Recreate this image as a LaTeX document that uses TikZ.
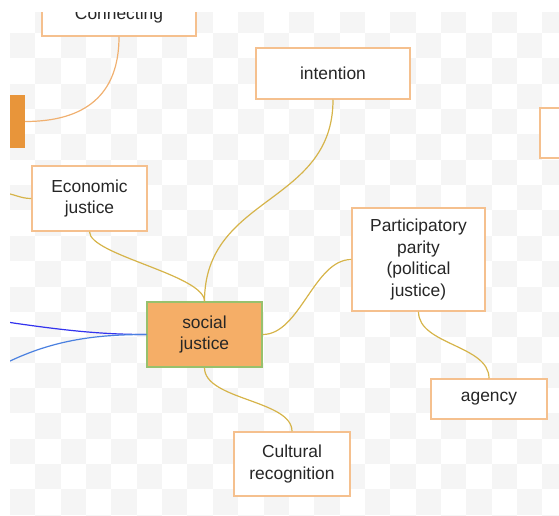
\documentclass[tikz,border=0pt]{standalone}
\usepackage{fontspec}
\setmainfont{Liberation Sans}
\usepackage{tikz}
\definecolor{cellgray}{HTML}{F5F5F5}
\definecolor{boxline}{HTML}{F5C08E}
\definecolor{rootfill}{HTML}{F5AE67}
\definecolor{rootline}{HTML}{97C16D}
\definecolor{barfill}{HTML}{E8953A}
\definecolor{goldlink}{HTML}{D6B44A}
\definecolor{orangelink}{HTML}{F0B070}
\definecolor{darkblue}{HTML}{3333EE}
\definecolor{lightblue}{HTML}{4A80E0}

\begin{document}
\begin{tikzpicture}[x=1pt,y=-1pt,
    leaf/.style={draw=boxline, line width=1.5pt, fill=white, inner sep=0pt, align=center,
      text=black!85, font=\fontsize{17.4}{21.5}\selectfont},
    root/.style={leaf, draw=rootline, fill=rootfill},
    goldline/.style={draw=goldlink, line width=1.2pt},
  ]
			\useasboundingbox (0,0) rectangle (559,516);
			\begin{scope}
			\clip (10,13) rectangle (559,515);
			\foreach \i in {0,...,21}
			  \foreach \j in {-1,...,19}{
			    \pgfmathtruncatemacro\chk{mod(\i+\j+2,2)}
			    \ifnum\chk=0 \fill[cellgray] (10+25.35*\i,33+25.35*\j) rectangle ++(25.35,25.35); \fi
			  }
			\node[leaf, minimum width=154pt, minimum height=41pt] (connecting) at (119,15.5) {Connecting};
			\node[fill=barfill, minimum width=30pt, minimum height=53pt, inner sep=0pt] (sidebar) at (10,121.5) {};
			\node[leaf, minimum width=154pt, minimum height=51pt] (intention) at (333,73.5) {intention};
			\node[leaf, minimum width=60pt, minimum height=50pt] (farright) at (570,133) {};
			\node[leaf, minimum width=115pt, minimum height=65pt] (economic) at (89.5,198.5) {Economic\\justice};
			\node[root, minimum width=115pt, minimum height=65pt] (social) at (204.5,334.5) {social\\justice};
			\node[leaf, minimum width=133pt, minimum height=103pt] (parity) at (418.5,259.5) {Participatory\\parity\\(political\\justice)};
			\node[leaf, minimum width=116pt, minimum height=40pt] (agency) at (489,399) {agency};
			\node[leaf, minimum width=116pt, minimum height=64pt] (cultural) at (292,464) {Cultural\\recognition};
			\coordinate (ecoleft) at (0,192);
			\coordinate (blueup) at (0,321);
			\coordinate (bluedown) at (0,366);
			\draw[orangelink, line width=1.2pt] (connecting.south) .. controls (119,95) and (85,121.5) .. (sidebar.east);
			\draw[goldline] (economic.west) .. controls (20,198.5) and (15,194) .. (ecoleft);
			\draw[goldline] (economic.south) .. controls (89.5,255) and (204.5,275) .. (social.north);
			\draw[goldline] (intention.south) .. controls (333,205) and (204.5,195) .. (social.north);
			\draw[goldline] (social.east) .. controls (300,334.5) and (314,259.5) .. (parity.west);
			\draw[goldline] (parity.south) .. controls (418.5,345) and (489,345) .. (agency.north);
			\draw[goldline] (social.south) .. controls (204.5,400) and (292,400) .. (cultural.north);
			\draw[darkblue, line width=1.2pt] (social.west) .. controls (100,334.5) and (60,330) .. (blueup);
			\draw[lightblue, line width=1.2pt] (social.west) .. controls (95,334.5) and (50,340) .. (bluedown);
			\end{scope}
		\end{tikzpicture}
\end{document}
